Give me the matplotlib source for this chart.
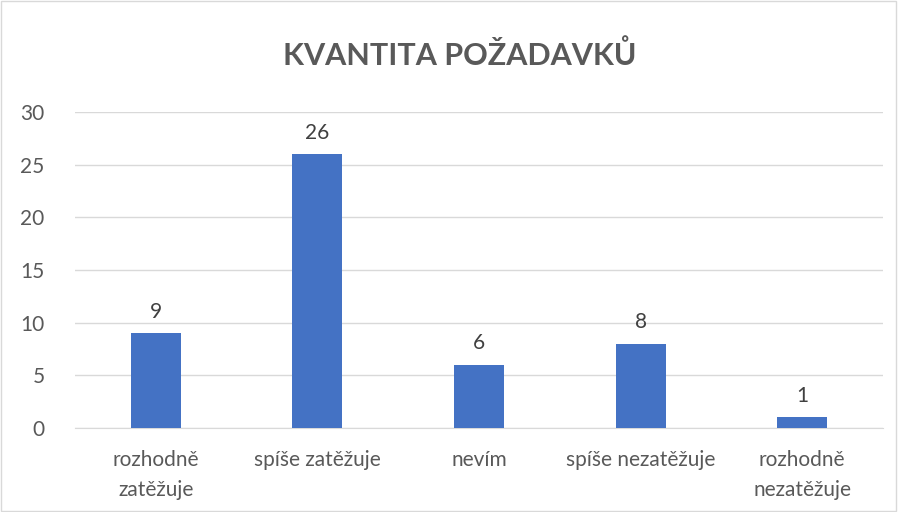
import matplotlib.pyplot as plt
from matplotlib.patches import Rectangle

categories = ['rozhodně\nzatěžuje', 'spíše zatěžuje', 'nevím', 'spíše nezatěžuje', 'rozhodně\nnezatěžuje']
values = [9, 26, 6, 8, 1]
yticks = [0, 5, 10, 15, 20, 25, 30]

plt.rcParams['font.family'] = ['Lato', 'DejaVu Sans']

fig = plt.figure(figsize=(8.98, 5.12), dpi=100)
ax = fig.add_axes([75 / 898, 1 - 428 / 512, 808 / 898, 316 / 512])

x = range(len(categories))
bars = ax.bar(x, values, width=0.31, color='#4472C4', zorder=3)
for b, v in zip(bars, values):
    ax.text(b.get_x() + b.get_width() / 2, v + 1.1, str(v), ha='center', va='bottom',
            fontsize=15, color='#404040')

ax.set_xlim(-0.5, len(categories) - 0.5)
ax.set_ylim(0, 30)
ax.set_yticks(yticks)
ax.set_xticks(list(x))
ax.set_xticklabels(categories, fontsize=15, color='#595959', linespacing=1.6)
ax.tick_params(axis='y', labelsize=15, labelcolor='#595959', length=0, pad=22)
ax.tick_params(axis='x', length=0, pad=16)
ax.grid(axis='y', color='#d9d9d9', linewidth=1, zorder=0)
for s in ['top', 'right', 'left']:
    ax.spines[s].set_visible(False)
ax.spines['bottom'].set_color('#d9d9d9')

fig.text(460 / 898, 1 - 55 / 512, 'KVANTITA POŽADAVKŮ', ha='center', va='center',
         fontsize=22, fontweight='bold', color='#595959')

fig.patches.append(Rectangle((0.001, 0.001), 0.997, 0.997, transform=fig.transFigure,
                             fill=False, edgecolor='#d9d9d9', linewidth=1))

fig.savefig('out.png', dpi=100)
